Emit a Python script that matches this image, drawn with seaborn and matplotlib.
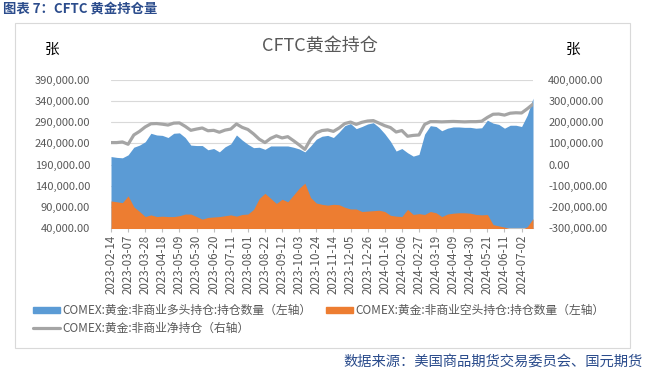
import numpy as np
import pandas as pd
import seaborn as sns
import matplotlib.pyplot as plt
import matplotlib.patches as mpatches
from matplotlib.lines import Line2D
from matplotlib.ticker import FuncFormatter

# ---------------------------------------------------------------
# data (weekly CFTC reports)
# ---------------------------------------------------------------
dates = pd.date_range('2023-02-14', periods=75, freq='7D')

long_pos = [209000, 207000, 206000, 213000, 231000, 236000, 244000, 264000, 260000, 259000,
            254000, 264000, 265000, 254000, 236000, 235000, 235000, 225000, 228000, 220000,
            232000, 239000, 260000, 248000, 238000, 230000, 231000, 226000, 234000, 234000,
            234000, 234000, 231000, 227000, 220000, 234000, 250000, 257000, 259000, 254000,
            267000, 282000, 287000, 275000, 280000, 286000, 289000, 278000, 263000, 245000,
            222000, 228000, 218000, 210000, 214000, 262000, 282000, 280000, 270000, 276000,
            279000, 279000, 278000, 278000, 276000, 277000, 295000, 288000, 285000, 276000,
            283000, 283000, 280000, 307000, 347000]

short_pos = [104000, 102000, 100000, 116000, 90000, 79000, 67000, 71000, 67000, 68000,
             67000, 67000, 69000, 73000, 73000, 67000, 61000, 65000, 66000, 67000,
             69000, 71000, 68000, 72000, 73000, 84000, 110000, 122000, 110000, 98000,
             108000, 102000, 118000, 134000, 146000, 112000, 99000, 96000, 94000, 96000,
             95000, 89000, 85000, 85000, 79000, 80000, 81000, 82000, 79000, 70000,
             68000, 67000, 84000, 72000, 74000, 72000, 79000, 76000, 67000, 73000,
             75000, 76000, 76000, 75000, 72000, 71000, 72000, 48000, 45000, 42000,
             38000, 37000, 36000, 43000, 62000]

net_pos = [104000, 104000, 107000, 96000, 140000, 157000, 178000, 193000, 194000, 191000,
           187000, 196000, 197000, 181000, 162000, 168000, 173000, 160000, 162000, 153000,
           163000, 168000, 192000, 176000, 166000, 145000, 120000, 104000, 124000, 136000,
           126000, 132000, 113000, 93000, 72000, 120000, 150000, 161000, 164000, 157000,
           173000, 194000, 201000, 190000, 200000, 206000, 208000, 196000, 184000, 175000,
           154000, 161000, 134000, 138000, 140000, 190000, 203000, 203000, 202000, 203000,
           204000, 203000, 202000, 203000, 203000, 205000, 223000, 238000, 239000, 234000,
           243000, 245000, 244000, 264000, 286000]

df = pd.DataFrame({'date': dates, 'long': long_pos, 'short': short_pos, 'net': net_pos})
df['i'] = np.arange(len(df))

lab_long = 'COMEX:黄金:非商业多头持仓:持仓数量（左轴）'
lab_short = 'COMEX:黄金:非商业空头持仓:持仓数量（左轴）'
lab_net = 'COMEX:黄金:非商业净持仓（右轴）'

# ---------------------------------------------------------------
# style
# ---------------------------------------------------------------
sns.set_theme(style='white')
plt.rcParams['font.family'] = ['Noto Sans CJK SC', 'DejaVu Sans']
plt.rcParams['axes.unicode_minus'] = False

BLUE, ORANGE, GREY = '#5B9BD5', '#ED7D31', '#A5A5A5'
TXT = '#595959'
NAVY = '#2B4C8C'

W, H = 647, 373
fig = plt.figure(figsize=(W / 100, H / 100), dpi=100)
ax = fig.add_axes([111 / W, 1 - 228 / H, (533 - 111) / W, (228 - 80) / H])

# areas on left axis
ax.fill_between(df['i'], 0, df['long'], color=BLUE, lw=0, zorder=2)
ax.fill_between(df['i'], 0, df['short'], color=ORANGE, lw=0, zorder=3)
ax.set_xlim(0, len(df) - 1)
ax.set_ylim(40000, 390000)
ax.set_yticks(np.arange(40000, 390001, 50000))
ax.yaxis.set_major_formatter(FuncFormatter(lambda v, p: f'{v:,.2f}'))
ax.grid(axis='y', color='#D9D9D9', lw=0.8)
ax.set_axisbelow(True)

ticks = df['i'][::3]
ax.set_xticks(ticks)
ax.set_xticklabels(df['date'][::3].dt.strftime('%Y-%m-%d'), rotation=90)
ax.tick_params(axis='x', length=3, width=0.8, color='#BFBFBF', labelsize=8.3,
               labelcolor=TXT, pad=2, bottom=True)
ax.tick_params(axis='y', length=0, labelsize=8, labelcolor=TXT, pad=15)
for s in ['left', 'right', 'top']:
    ax.spines[s].set_visible(False)
ax.spines['bottom'].set_color('#BFBFBF')
ax.spines['bottom'].set_linewidth(0.8)
ax.set_xlabel('')
ax.set_ylabel('')

# net line on right axis
ax2 = ax.twinx()
sns.lineplot(data=df, x='i', y='net', ax=ax2, color=GREY, lw=2.3, legend=False)
ax2.set_ylim(-300000, 400000)
ax2.set_yticks(np.arange(-300000, 400001, 100000))
ax2.yaxis.set_major_formatter(FuncFormatter(lambda v, p: f'{v:,.2f}'))
ax2.tick_params(axis='y', length=0, labelsize=8, labelcolor=TXT, pad=11)
ax2.grid(False)
for s in ['left', 'right', 'top', 'bottom']:
    ax2.spines[s].set_visible(False)
ax2.set_xlabel('')
ax2.set_ylabel('')

# texts
fig.text(3 / W, 1 - 9 / H, '图表 7：CFTC 黄金持仓量', va='center', ha='left',
         fontsize=9.6, weight='bold', color=NAVY)
fig.text(320 / W, 1 - 46 / H, 'CFTC黄金持仓', ha='center', va='center',
         fontsize=13, color=TXT)
fig.text(52 / W, 1 - 50 / H, '张', ha='center', va='center', fontsize=10.5, color='black')
fig.text(573 / W, 1 - 50 / H, '张', ha='center', va='center', fontsize=10.5, color='black')
fig.text(643 / W, 1 - 362 / H, '数据来源：美国商品期货交易委员会、国元期货',
         ha='right', va='center', fontsize=10.3, color=NAVY)

# chart frame
fig.patches.append(mpatches.Rectangle((15 / W, 1 - 348 / H), (630 - 15) / W, (348 - 23) / H,
                                      transform=fig.transFigure, fill=False,
                                      edgecolor='#D9D9D9', lw=0.8))

# legend: row 1 long + short, row 2 net
handles = [mpatches.Patch(color=BLUE, label=lab_long),
           Line2D([], [], color=GREY, lw=2.3, label=lab_net),
           mpatches.Patch(color=ORANGE, label=lab_short)]
fig.legend(handles=handles, ncol=2, loc='upper left',
           bbox_to_anchor=(33 / W, 1 - 304 / H), frameon=False,
           fontsize=8.5, labelcolor=TXT, handlelength=2.3, handleheight=0.45,
           handletextpad=0.2, columnspacing=1.2, labelspacing=0.4,
           borderaxespad=0, borderpad=0)

fig.savefig('out.png', dpi=100)
